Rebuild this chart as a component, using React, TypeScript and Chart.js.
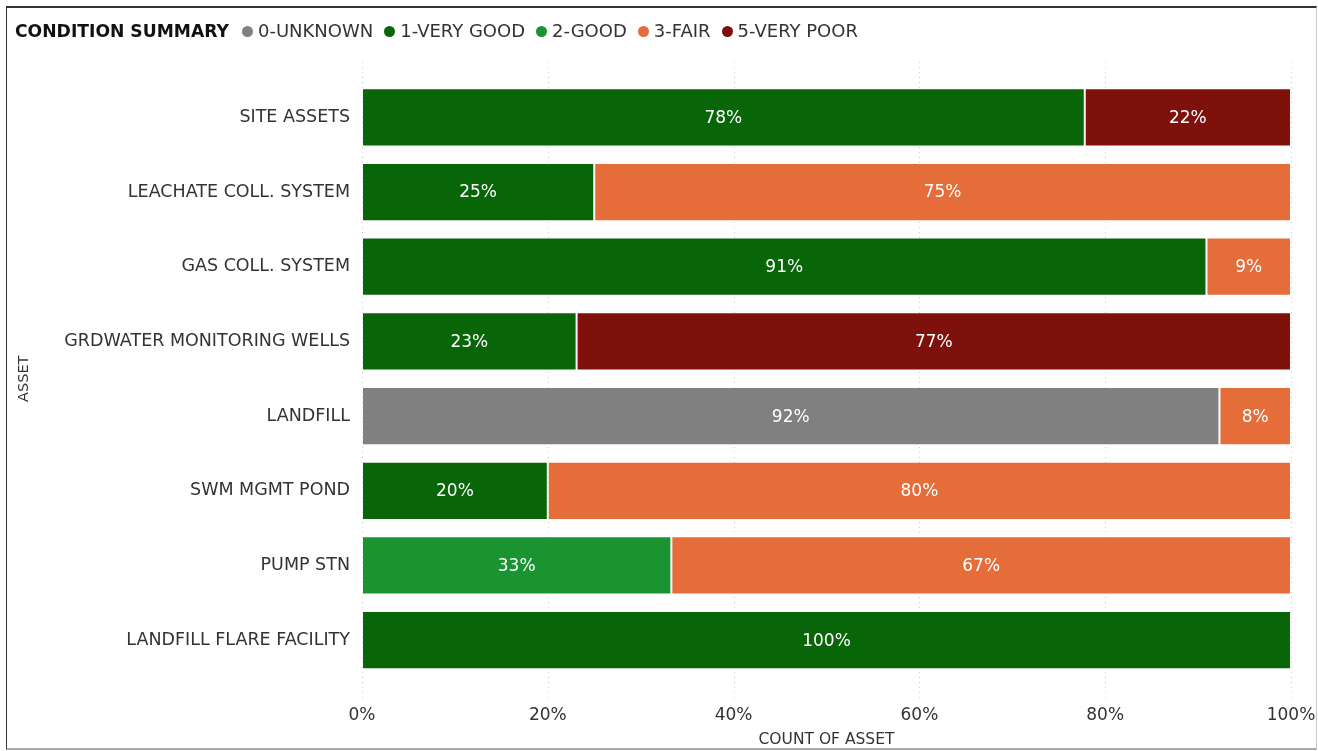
import React, { useEffect, useRef } from "react";
import { Chart, registerables } from "chart.js";

Chart.register(...registerables);

const categories = [
  "SITE ASSETS",
  "LEACHATE COLL. SYSTEM",
  "GAS COLL. SYSTEM",
  "GRDWATER MONITORING WELLS",
  "LANDFILL",
  "SWM MGMT POND",
  "PUMP STN",
  "LANDFILL FLARE FACILITY",
];

const seriesNames = ["0-UNKNOWN", "1-VERY GOOD", "2-GOOD", "3-FAIR", "5-VERY POOR"];
const seriesColors = ["#808080", "#086508", "#1a9431", "#e56d3a", "#7e110c"];

const unknownVals = [0, 0, 0, 0, 92.3, 0, 0, 0];
const veryGoodVals = [77.8, 25, 90.9, 23.1, 0, 20, 0, 100];
const goodVals = [0, 0, 0, 0, 0, 0, 33.3, 0];
const fairVals = [0, 75, 9.1, 0, 7.7, 80, 66.7, 0];
const veryPoorVals = [22.2, 0, 0, 76.9, 0, 0, 0, 0];

const xTicks = [0, 20, 40, 60, 80, 100];

const FONT = "'DejaVu Sans', sans-serif";
const TEXT = "#333333";

const gridPlugin = {
  id: "dottedGrid",
  beforeDatasetsDraw(chart: any) {
    const { ctx } = chart;
    const xs = chart.scales.x;
    ctx.save();
    ctx.strokeStyle = "#c8c8c8";
    ctx.lineWidth = 1;
    ctx.setLineDash([1, 4]);
    xTicks.forEach((t) => {
      const px = Math.round(xs.getPixelForValue(t)) + 0.5;
      ctx.beginPath();
      ctx.moveTo(px, 62);
      ctx.lineTo(px, 702);
      ctx.stroke();
    });
    ctx.restore();
  },
};

const labelPlugin = {
  id: "segLabels",
  afterDatasetsDraw(chart: any) {
    const { ctx } = chart;
    ctx.save();
    ctx.fillStyle = "#ffffff";
    ctx.font = `17px ${FONT}`;
    ctx.textAlign = "center";
    ctx.textBaseline = "middle";
    chart.data.datasets.forEach((ds: any, di: number) => {
      const meta = chart.getDatasetMeta(di);
      meta.data.forEach((bar: any, i: number) => {
        const v = ds.data[i];
        if (!v) return;
        const cx = (bar.x + bar.base) / 2;
        ctx.fillText(Math.round(v) + "%", cx, bar.y + 1);
      });
    });
    ctx.restore();
  },
};

export default function App() {
  const ref = useRef<HTMLCanvasElement>(null);

  useEffect(() => {
    const allVals = [unknownVals, veryGoodVals, goodVals, fairVals, veryPoorVals];
    const chart = new Chart(ref.current!, {
      type: "bar",
      data: {
        labels: categories,
        datasets: seriesNames.map((n, i) => ({
          label: n,
          data: allVals[i],
          backgroundColor: seriesColors[i],
          borderColor: "rgba(255,255,255,0.35)",
          borderWidth: 1,
          borderSkipped: false,
          categoryPercentage: 1,
          barPercentage: 0.78,
        })),
      },
      options: {
        indexAxis: "y",
        responsive: false,
        animation: false,
        layout: { padding: { left: 0, right: 27, top: 80, bottom: 0 } },
        plugins: {
          legend: { display: false },
          tooltip: { enabled: false },
        },
        scales: {
          x: {
            stacked: true,
            min: 0,
            max: 100,
            afterBuildTicks: (s: any) => {
              s.ticks = xTicks.map((v) => ({ value: v }));
            },
            grid: { display: false, drawTicks: false },
            border: { display: false },
            ticks: {
              padding: 28,
              color: TEXT,
              font: { family: FONT, size: 17 },
              callback: (v: any) => v + "%",
              maxRotation: 0,
            },
            title: {
              display: true,
              text: "COUNT OF ASSET",
              color: TEXT,
              font: { family: FONT, size: 15.5 },
              padding: { top: 0, bottom: 2 },
            },
            afterFit: (s: any) => {
              s.height = 73.5;
              s.paddingLeft = 0;
              s.paddingRight = 0;
            },
          },
          y: {
            stacked: true,
            grid: { display: false, drawTicks: false },
            border: { display: false },
            ticks: {
              padding: 12,
              color: TEXT,
              font: { family: FONT, size: 17.5 },
            },
            title: {
              display: true,
              text: "ASSET",
              color: TEXT,
              font: { family: FONT, size: 14.5 },
              padding: { top: 16, bottom: 0 },
            },
            afterFit: (s: any) => {
              s.width = 362;
              s.paddingTop = 0;
              s.paddingBottom = 0;
            },
          },
        },
      },
      plugins: [gridPlugin, labelPlugin],
    });
    return () => chart.destroy();
  }, []);

  const legendItems = seriesNames.map((n, i) => (
    <span key={n} style={{ display: "inline-flex", alignItems: "center", marginRight: 11 }}>
      <span
        style={{
          width: 11,
          height: 11,
          borderRadius: "50%",
          background: seriesColors[i],
          display: "inline-block",
          marginRight: 5,
        }}
      />
      <span>{n}</span>
    </span>
  ));

  return (
    <div
      style={{
        position: "fixed",
        left: 0,
        top: 0,
        width: 1318,
        height: 751,
        background: "#fff",
        overflow: "hidden",
      }}
    >
      <div
        style={{
          position: "absolute",
          left: 6,
          top: 6,
          width: 1311,
          height: 744,
          boxSizing: "border-box",
          borderTop: "2px solid #333",
          borderLeft: "1px solid #333",
          borderRight: "1px solid #ccc",
          borderBottom: "2px solid #aaa",
        }}
      />
      <canvas ref={ref} width={1318} height={751} style={{ position: "absolute", left: 0, top: 0 }} />
      <div
        style={{
          position: "absolute",
          left: 15,
          top: 19,
          display: "flex",
          alignItems: "center",
          fontFamily: FONT,
          fontSize: 18,
          color: TEXT,
          whiteSpace: "nowrap",
          lineHeight: "24px",
        }}
      >
        <span style={{ fontWeight: 700, color: "#111", marginRight: 13, fontSize: 17.2 }}>CONDITION SUMMARY</span>
        {legendItems}
      </div>
    </div>
  );
}
